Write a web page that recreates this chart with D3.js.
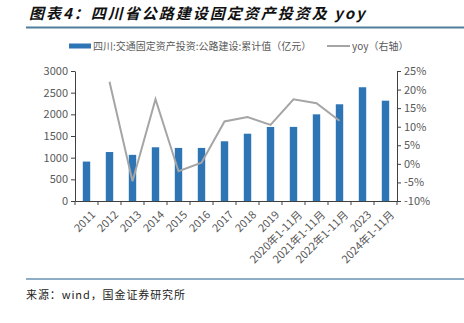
<!DOCTYPE html>
<html>
<head>
<meta charset="utf-8">
<script src="https://cdn.jsdelivr.net/npm/d3@7"></script>
<style>
  html, body { margin: 0; padding: 0; background: #fff; }
  svg { display: block; }
</style>
</head>
<body>
<svg id="chart" width="464" height="323"></svg>
<script>
// Categories along the x axis
const categories = ["2011","2012","2013","2014","2015","2016","2017","2018","2019",
  "2020年1-11月","2021年1-11月","2022年1-11月","2023","2024年1-11月"];
// Cumulative highway-construction fixed asset investment, 100 million yuan
const investment = [910, 1130, 1065, 1240, 1225, 1225, 1378, 1553, 1708, 1710, 2000, 2232, 2625, 2315];
// Year-on-year growth, % (null where not reported)
const yoy = [null, 22.1, -4.7, 17.4, -2.0, 0.3, 11.4, 12.6, 10.5, 17.4, 16.3, 11.6, null, null];
const leftTicks = [0, 500, 1000, 1500, 2000, 2500, 3000];
const rightTicks = [-10, -5, 0, 5, 10, 15, 20, 25];

const svg = d3.select("#chart");
const cjk = "'Microsoft YaHei','Noto Sans CJK SC',sans-serif";

// Title
svg.append("text")
  .attr("x", 29).attr("y", 19)
  .attr("font-family", "'Noto Sans CJK SC',sans-serif")
  .attr("font-size", 15).attr("font-weight", "bold").attr("font-style", "italic")
  .attr("letter-spacing", 2)
  .attr("fill", "#111")
  .text("图表4：四川省公路建设固定资产投资及 yoy");
svg.append("line")
  .attr("x1", 26).attr("x2", 464).attr("y1", 27.5).attr("y2", 27.5)
  .attr("stroke", "#4f7f9a").attr("stroke-width", 2);

const m = { left: 75, right: 397, top: 71, bottom: 201 };
const x = d3.scaleBand().domain(categories).range([m.left, m.right]);
const yL = d3.scaleLinear().domain([0, 3000]).range([m.bottom, m.top]);
const yR = d3.scaleLinear().domain([-10, 25]).range([m.bottom, m.top]);

// Bars
svg.append("g").selectAll("rect").data(investment).join("rect")
  .attr("x", (d, i) => x(categories[i]) + x.bandwidth() / 2 - 3.7)
  .attr("width", 7.4)
  .attr("y", d => yL(d))
  .attr("height", d => yL(0) - yL(d))
  .attr("fill", "#2e75b6");

// YoY line
const line = d3.line()
  .defined(d => d.v !== null)
  .x(d => x(d.c) + x.bandwidth() / 2)
  .y(d => yR(d.v));
svg.append("path")
  .datum(categories.map((c, i) => ({ c, v: yoy[i] })))
  .attr("d", line)
  .attr("fill", "none")
  .attr("stroke", "#a5a5a5")
  .attr("stroke-width", 2);

// Axes
const axisColor = "#404040";
const labelColor = "#595959";
function styleAxis(g) {
  g.select(".domain").attr("stroke", axisColor);
  g.selectAll(".tick line").attr("stroke", axisColor);
  g.selectAll("text").attr("fill", labelColor).attr("font-size", 11)
    .attr("font-family", cjk);
}

svg.append("g").attr("transform", `translate(${m.left},0)`)
  .call(d3.axisLeft(yL).tickValues(leftTicks).tickFormat(d3.format("d"))
    .tickSize(4).tickSizeOuter(0).tickPadding(3))
  .call(styleAxis);

svg.append("g").attr("transform", `translate(${m.right},0)`)
  .call(d3.axisRight(yR).tickValues(rightTicks).tickFormat(d => d + "%")
    .tickSize(4).tickSizeOuter(0).tickPadding(3))
  .call(styleAxis);

const xAxis = svg.append("g").attr("transform", `translate(0,${m.bottom})`)
  .call(d3.axisBottom(x).tickSize(4).tickSizeOuter(0).tickValues([]))
  .call(styleAxis);
// Ticks on band boundaries
xAxis.selectAll(".bt").data(d3.range(categories.length + 1)).join("line")
  .attr("x1", i => m.left + i * x.step()).attr("x2", i => m.left + i * x.step())
  .attr("y1", 0).attr("y2", 4).attr("stroke", axisColor);
xAxis.selectAll(".cl").data(categories).join("text")
  .attr("transform", d => `translate(${x(d) + x.bandwidth() / 2 + 4},${9}) rotate(-45)`)
  .attr("text-anchor", "end")
  .attr("dy", "0.7em")
  .attr("fill", labelColor).attr("font-size", 11).attr("font-family", cjk)
  .text(d => d);

// Legend
svg.append("rect").attr("x", 69).attr("y", 43.5).attr("width", 22).attr("height", 5)
  .attr("fill", "#2e75b6");
svg.append("text").attr("x", 93).attr("y", 50)
  .attr("font-family", cjk).attr("font-size", 10).attr("fill", labelColor)
  .text("四川:交通固定资产投资:公路建设:累计值（亿元）");
svg.append("line").attr("x1", 327).attr("x2", 350).attr("y1", 46).attr("y2", 46)
  .attr("stroke", "#a5a5a5").attr("stroke-width", 2);
svg.append("text").attr("x", 352).attr("y", 50)
  .attr("font-family", cjk).attr("font-size", 10).attr("fill", labelColor)
  .text("yoy（右轴）");

// Source footer
svg.append("line")
  .attr("x1", 26).attr("x2", 464).attr("y1", 279).attr("y2", 279)
  .attr("stroke", "#1f5f8f").attr("stroke-width", 1);
svg.append("text").attr("x", 26).attr("y", 299)
  .attr("font-family", "'Noto Sans CJK SC',monospace").attr("font-size", 11).attr("fill", "#222")
  .attr("letter-spacing", 0.9)
  .text("来源：wind，国金证券研究所");
</script>
</body>
</html>
